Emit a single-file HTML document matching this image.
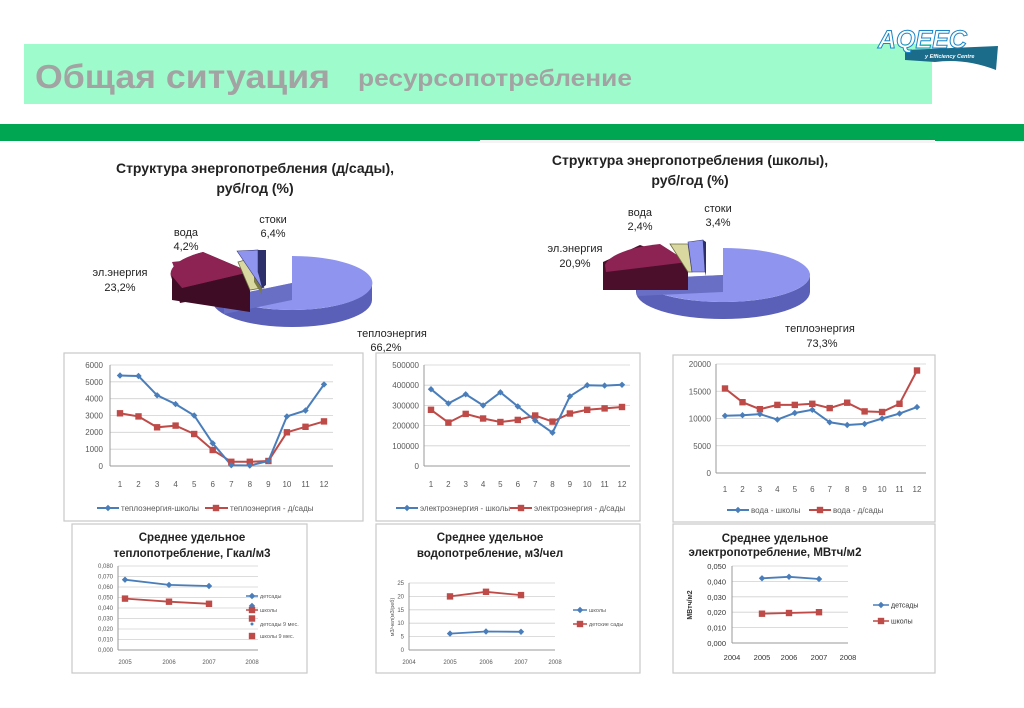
<!DOCTYPE html>
<html><head><meta charset="utf-8"><style>
body{margin:0;background:#fff}
svg{display:block;font-family:"Liberation Sans",sans-serif}
.t{font-size:8px;fill:#595959}
.g{stroke:#d0d0d0;stroke-width:0.8}
.bx{fill:#fff;stroke:#c8c8c8;stroke-width:1.2}
.pl{font-size:11px;fill:#222}
.ti{font-size:14px;font-weight:bold;fill:#222}
.ct{font-size:11.5px;font-weight:bold;fill:#222}
</style></head><body>
<svg width="1024" height="708" viewBox="0 0 1024 708">
<defs>
<g id="d"><path d="M0,-3.2L3.2,0L0,3.2L-3.2,0Z" fill="#4a7ebb"/></g>
<g id="s"><rect x="-3.2" y="-3.2" width="6.4" height="6.4" fill="#be4b48"/></g>
</defs>
<!-- header -->
<rect x="24" y="44" width="908" height="60" fill="#9efccc"/>
<text x="35" y="88" font-size="33" font-weight="bold" fill="#a3a3a3" textLength="295" lengthAdjust="spacingAndGlyphs">Общая ситуация</text>
<text x="358" y="86" font-size="23" font-weight="bold" fill="#a3a3a3" textLength="274" lengthAdjust="spacingAndGlyphs">ресурсопотребление</text>
<path d="M905,50 L998,46 L996,70 Q965,58 935,62 L905,60Z" fill="#1b6b8a"/>
<text x="878" y="48" font-size="25" font-weight="bold" font-style="italic" fill="#fff" stroke="#1a86c8" stroke-width="1">AQEEC</text>
<text x="925" y="58" font-size="5.5" font-weight="bold" font-style="italic" fill="#fff">y Efficiency Centre</text>
<rect x="0" y="124" width="1024" height="17" fill="#00a651"/>
<rect x="480" y="140" width="455" height="3" fill="#f4f4f4"/>

<!-- pie 1 -->
<text class="ti" x="255" y="173" text-anchor="middle">Структура энергопотребления (д/сады),</text>
<text class="ti" x="255" y="193" text-anchor="middle">руб/год (%)</text>
<path d="M212,283 A80,27 0 0 0 372,283 L372,300 A80,27 0 0 1 212,300Z" fill="#5a5fb8"/>
<path d="M292,256 A80,27 0 1 1 224,297 L292,283Z" fill="#8f95ef"/>
<path d="M224,297 L292,283 L292,300 L224,314Z" fill="#6a6fc6"/>
<path d="M172,276 A78,27 0 0 1 203,252 L250,272 L250,290 L180,303 Z" fill="#4b0f2b"/>
<path d="M182,288 A78,27 0 0 1 203,252 L250,272Z" fill="#8c2352"/>
<path d="M172,276 L182,288 L250,272 L250,312 L172,300Z" fill="#3e0c24"/>
<path d="M172,262 L210,258 L250,272 L182,288 Z" fill="#8c2352"/>
<path d="M238,262 L252,258 L262,288 L250,290Z" fill="#d8d8a0" stroke="#6b6b40" stroke-width="0.8"/>
<path d="M254,275 L262,288 L262,295 L254,282Z" fill="#7a7a44"/>
<path d="M237,251 L258,250 L258,272 L264,288 L262,288Z" fill="#8f95ef" stroke="#3a3a80" stroke-width="0.6"/>
<path d="M258,250 L266,250 L266,285 L262,288 L258,272Z" fill="#2c2f6a"/>
<text class="pl" x="186" y="236" text-anchor="middle">вода</text>
<text class="pl" x="186" y="250" text-anchor="middle">4,2%</text>
<text class="pl" x="273" y="223" text-anchor="middle">стоки</text>
<text class="pl" x="273" y="237" text-anchor="middle">6,4%</text>
<text class="pl" x="120" y="276" text-anchor="middle">эл.энергия</text>
<text class="pl" x="120" y="291" text-anchor="middle">23,2%</text>
<text class="pl" x="392" y="337" text-anchor="middle">теплоэнергия</text>
<text class="pl" x="386" y="351" text-anchor="middle">66,2%</text>

<!-- pie 2 -->
<text class="ti" x="690" y="165" text-anchor="middle">Структура энергопотребления (школы),</text>
<text class="ti" x="690" y="185" text-anchor="middle">руб/год (%)</text>
<path d="M636,275 A87,27 0 0 0 810,275 L810,292 A87,27 0 0 1 636,292Z" fill="#5a5fb8"/>
<path d="M723,248 A87,27 0 1 1 637,279 L723,275Z" fill="#8f95ef"/>
<path d="M637,279 L723,275 L723,292 L637,296Z" fill="#6a6fc6"/>
<path d="M603,262 L640,245 L688,262 L688,290 L603,290Z" fill="#4b0f2b"/>
<path d="M605,265 A80,25 0 0 1 660,244 L688,262 L606,272Z" fill="#8c2352"/>
<path d="M670,244 L688,244 L692,272 L688,272Z" fill="#d8d8a0" stroke="#6b6b40" stroke-width="0.8"/>
<path d="M688,242 L703,240 L705,272 L692,272Z" fill="#8f95ef" stroke="#3a3a80" stroke-width="0.6"/>
<path d="M703,240 L706,242 L706,276 L705,272Z" fill="#2c2f6a"/>
<text class="pl" x="640" y="216" text-anchor="middle">вода</text>
<text class="pl" x="640" y="230" text-anchor="middle">2,4%</text>
<text class="pl" x="718" y="212" text-anchor="middle">стоки</text>
<text class="pl" x="718" y="226" text-anchor="middle">3,4%</text>
<text class="pl" x="575" y="252" text-anchor="middle">эл.энергия</text>
<text class="pl" x="575" y="267" text-anchor="middle">20,9%</text>
<text class="pl" x="820" y="332" text-anchor="middle">теплоэнергия</text>
<text class="pl" x="822" y="347" text-anchor="middle">73,3%</text>

<!-- chart A -->
<rect class="bx" x="64" y="353" width="299" height="168"/>
<g class="g"><line x1="110" x2="333" y1="449.2" y2="449.2"/><line x1="110" x2="333" y1="432.3" y2="432.3"/><line x1="110" x2="333" y1="415.5" y2="415.5"/><line x1="110" x2="333" y1="398.7" y2="398.7"/><line x1="110" x2="333" y1="381.8" y2="381.8"/><line x1="110" x2="333" y1="365" y2="365"/></g>
<line x1="110" x2="333" y1="466" y2="466" stroke="#999"/><line x1="110" x2="110" y1="365" y2="466" stroke="#999"/>
<g class="t" text-anchor="end"><text x="103" y="469">0</text><text x="103" y="452">1000</text><text x="103" y="435">2000</text><text x="103" y="418.5">3000</text><text x="103" y="401.7">4000</text><text x="103" y="384.8">5000</text><text x="103" y="368">6000</text></g>
<g class="t" text-anchor="middle"><text x="120" y="487">1</text><text x="138.5" y="487">2</text><text x="157.1" y="487">3</text><text x="175.6" y="487">4</text><text x="194.2" y="487">5</text><text x="212.7" y="487">6</text><text x="231.3" y="487">7</text><text x="249.8" y="487">8</text><text x="268.4" y="487">9</text><text x="286.9" y="487">10</text><text x="305.5" y="487">11</text><text x="324" y="487">12</text></g>
<polyline fill="none" stroke="#be4b48" stroke-width="2" points="120,413.3 138.5,416.4 157.1,427.3 175.6,425.6 194.2,434 212.7,450 231.3,461.8 249.8,461.8 268.4,461 286.9,432.3 305.5,426.8 324,421.4"/>
<polyline fill="none" stroke="#4a7ebb" stroke-width="2" points="120,375.5 138.5,376 157.1,395.3 175.6,404.1 194.2,415.5 212.7,443.3 231.3,465.2 249.8,465.5 268.4,461 286.9,416.4 305.5,410.5 324,384.4"/>
<g><use href="#s" x="120" y="413.3"/><use href="#s" x="138.5" y="416.4"/><use href="#s" x="157.1" y="427.3"/><use href="#s" x="175.6" y="425.6"/><use href="#s" x="194.2" y="434"/><use href="#s" x="212.7" y="450"/><use href="#s" x="231.3" y="461.8"/><use href="#s" x="249.8" y="461.8"/><use href="#s" x="268.4" y="461"/><use href="#s" x="286.9" y="432.3"/><use href="#s" x="305.5" y="426.8"/><use href="#s" x="324" y="421.4"/></g>
<g><use href="#d" x="120" y="375.5"/><use href="#d" x="138.5" y="376"/><use href="#d" x="157.1" y="395.3"/><use href="#d" x="175.6" y="404.1"/><use href="#d" x="194.2" y="415.5"/><use href="#d" x="212.7" y="443.3"/><use href="#d" x="231.3" y="465.2"/><use href="#d" x="249.8" y="465.5"/><use href="#d" x="268.4" y="461"/><use href="#d" x="286.9" y="416.4"/><use href="#d" x="305.5" y="410.5"/><use href="#d" x="324" y="384.4"/></g>
<line x1="97" x2="119" y1="508" y2="508" stroke="#4a7ebb" stroke-width="2"/><use href="#d" x="108" y="508"/>
<text class="t" x="121" y="511">теплоэнергия-школы</text>
<line x1="205" x2="228" y1="508" y2="508" stroke="#be4b48" stroke-width="2"/><use href="#s" x="216" y="508"/>
<text class="t" x="230" y="511">теплоэнергия - д/сады</text>

<!-- chart B -->
<rect class="bx" x="376" y="353" width="264" height="168"/>
<g class="g"><line x1="424" x2="630" y1="445.8" y2="445.8"/><line x1="424" x2="630" y1="425.6" y2="425.6"/><line x1="424" x2="630" y1="405.4" y2="405.4"/><line x1="424" x2="630" y1="385.2" y2="385.2"/><line x1="424" x2="630" y1="365" y2="365"/></g>
<line x1="424" x2="630" y1="466" y2="466" stroke="#999"/><line x1="424" x2="424" y1="365" y2="466" stroke="#999"/>
<g class="t" text-anchor="end"><text x="419" y="469">0</text><text x="419" y="448.8">100000</text><text x="419" y="428.6">200000</text><text x="419" y="408.4">300000</text><text x="419" y="388.2">400000</text><text x="419" y="368">500000</text></g>
<g class="t" text-anchor="middle"><text x="431" y="487">1</text><text x="448.4" y="487">2</text><text x="465.7" y="487">3</text><text x="483.1" y="487">4</text><text x="500.4" y="487">5</text><text x="517.8" y="487">6</text><text x="535.2" y="487">7</text><text x="552.5" y="487">8</text><text x="569.9" y="487">9</text><text x="587.2" y="487">10</text><text x="604.6" y="487">11</text><text x="622" y="487">12</text></g>
<polyline fill="none" stroke="#be4b48" stroke-width="2" points="431,409.8 448.4,422.6 465.7,413.9 483.1,418.5 500.4,422 517.8,419.9 535.2,415.5 552.5,421.6 569.9,413.5 587.2,409.8 604.6,408.4 622,407"/>
<polyline fill="none" stroke="#4a7ebb" stroke-width="2" points="431,389.2 448.4,403.4 465.7,394.3 483.1,405.4 500.4,392.3 517.8,406.4 535.2,420.5 552.5,432.7 569.9,396.3 587.2,385.2 604.6,385.6 622,384.8"/>
<g><use href="#s" x="431" y="409.8"/><use href="#s" x="448.4" y="422.6"/><use href="#s" x="465.7" y="413.9"/><use href="#s" x="483.1" y="418.5"/><use href="#s" x="500.4" y="422"/><use href="#s" x="517.8" y="419.9"/><use href="#s" x="535.2" y="415.5"/><use href="#s" x="552.5" y="421.6"/><use href="#s" x="569.9" y="413.5"/><use href="#s" x="587.2" y="409.8"/><use href="#s" x="604.6" y="408.4"/><use href="#s" x="622" y="407"/></g>
<g><use href="#d" x="431" y="389.2"/><use href="#d" x="448.4" y="403.4"/><use href="#d" x="465.7" y="394.3"/><use href="#d" x="483.1" y="405.4"/><use href="#d" x="500.4" y="392.3"/><use href="#d" x="517.8" y="406.4"/><use href="#d" x="535.2" y="420.5"/><use href="#d" x="552.5" y="432.7"/><use href="#d" x="569.9" y="396.3"/><use href="#d" x="587.2" y="385.2"/><use href="#d" x="604.6" y="385.6"/><use href="#d" x="622" y="384.8"/></g>
<line x1="396" x2="418" y1="508" y2="508" stroke="#4a7ebb" stroke-width="2"/><use href="#d" x="407" y="508"/>
<text class="t" x="420" y="511">электроэнергия - школы</text>
<line x1="510" x2="532" y1="508" y2="508" stroke="#be4b48" stroke-width="2"/><use href="#s" x="521" y="508"/>
<text class="t" x="534" y="511">электроэнергия - д/сады</text>

<!-- chart C -->
<rect class="bx" x="673" y="355" width="262" height="167"/>
<g class="g"><line x1="716" x2="926" y1="445.75" y2="445.75"/><line x1="716" x2="926" y1="418.5" y2="418.5"/><line x1="716" x2="926" y1="391.25" y2="391.25"/><line x1="716" x2="926" y1="364" y2="364"/></g>
<line x1="716" x2="926" y1="473" y2="473" stroke="#999"/><line x1="716" x2="716" y1="364" y2="473" stroke="#999"/>
<g class="t" text-anchor="end"><text x="711" y="476">0</text><text x="711" y="448.75">5000</text><text x="711" y="421.5">10000</text><text x="711" y="394.25">15000</text><text x="711" y="367">20000</text></g>
<g class="t" text-anchor="middle"><text x="725" y="492">1</text><text x="742.5" y="492">2</text><text x="759.9" y="492">3</text><text x="777.4" y="492">4</text><text x="794.8" y="492">5</text><text x="812.3" y="492">6</text><text x="829.7" y="492">7</text><text x="847.2" y="492">8</text><text x="864.6" y="492">9</text><text x="882.1" y="492">10</text><text x="899.5" y="492">11</text><text x="917" y="492">12</text></g>
<polyline fill="none" stroke="#be4b48" stroke-width="2" points="725,388.5 742.5,402.2 759.9,409.2 777.4,404.9 794.8,404.9 812.3,403.8 829.7,408.1 847.2,402.7 864.6,411.4 882.1,412 899.5,403.8 917,370.5"/>
<polyline fill="none" stroke="#4a7ebb" stroke-width="2" points="725,415.8 742.5,415.2 759.9,414.1 777.4,419.6 794.8,413 812.3,409.8 829.7,422.3 847.2,425 864.6,423.9 882.1,418.5 899.5,413.6 917,407.1"/>
<g><use href="#s" x="725" y="388.5"/><use href="#s" x="742.5" y="402.2"/><use href="#s" x="759.9" y="409.2"/><use href="#s" x="777.4" y="404.9"/><use href="#s" x="794.8" y="404.9"/><use href="#s" x="812.3" y="403.8"/><use href="#s" x="829.7" y="408.1"/><use href="#s" x="847.2" y="402.7"/><use href="#s" x="864.6" y="411.4"/><use href="#s" x="882.1" y="412"/><use href="#s" x="899.5" y="403.8"/><use href="#s" x="917" y="370.5"/></g>
<g><use href="#d" x="725" y="415.8"/><use href="#d" x="742.5" y="415.2"/><use href="#d" x="759.9" y="414.1"/><use href="#d" x="777.4" y="419.6"/><use href="#d" x="794.8" y="413"/><use href="#d" x="812.3" y="409.8"/><use href="#d" x="829.7" y="422.3"/><use href="#d" x="847.2" y="425"/><use href="#d" x="864.6" y="423.9"/><use href="#d" x="882.1" y="418.5"/><use href="#d" x="899.5" y="413.6"/><use href="#d" x="917" y="407.1"/></g>
<line x1="727" x2="749" y1="510" y2="510" stroke="#4a7ebb" stroke-width="2"/><use href="#d" x="738" y="510"/>
<text class="t" x="751" y="513">вода - школы</text>
<line x1="809" x2="831" y1="510" y2="510" stroke="#be4b48" stroke-width="2"/><use href="#s" x="820" y="510"/>
<text class="t" x="833" y="513">вода - д/сады</text>

<!-- chart D -->
<rect class="bx" x="72" y="524" width="235" height="149"/>
<text class="ct" x="192" y="541" text-anchor="middle">Среднее удельное</text>
<text class="ct" x="192" y="557" text-anchor="middle">теплопотребление, Гкал/м3</text>
<g class="g"><line x1="118" x2="258" y1="639.5" y2="639.5"/><line x1="118" x2="258" y1="629" y2="629"/><line x1="118" x2="258" y1="618.5" y2="618.5"/><line x1="118" x2="258" y1="608" y2="608"/><line x1="118" x2="258" y1="597.5" y2="597.5"/><line x1="118" x2="258" y1="587" y2="587"/><line x1="118" x2="258" y1="576.5" y2="576.5"/><line x1="118" x2="258" y1="566" y2="566"/></g>
<line x1="118" x2="258" y1="650" y2="650" stroke="#999"/><line x1="118" x2="118" y1="566" y2="650" stroke="#999"/>
<g class="t" text-anchor="end" style="font-size:6px"><text x="113" y="652">0,000</text><text x="113" y="641.5">0,010</text><text x="113" y="631">0,020</text><text x="113" y="620.5">0,030</text><text x="113" y="610">0,040</text><text x="113" y="599.5">0,050</text><text x="113" y="589">0,060</text><text x="113" y="578.5">0,070</text><text x="113" y="568">0,080</text></g>
<g class="t" text-anchor="middle" style="font-size:6px"><text x="125" y="664">2005</text><text x="169" y="664">2006</text><text x="209" y="664">2007</text><text x="252" y="664">2008</text></g>
<polyline fill="none" stroke="#4a7ebb" stroke-width="1.8" points="125,579.7 169,584.9 209,586"/>
<polyline fill="none" stroke="#be4b48" stroke-width="1.8" points="125,598.6 169,601.7 209,603.8"/>
<use href="#d" x="125" y="579.7"/><use href="#d" x="169" y="584.9"/><use href="#d" x="209" y="586"/><use href="#d" x="252" y="605.9"/>
<use href="#s" x="125" y="598.6"/><use href="#s" x="169" y="601.7"/><use href="#s" x="209" y="603.8"/><use href="#s" x="252" y="618.5"/>
<g class="t" style="font-size:5.5px">
<line x1="246" x2="258" y1="596" y2="596" stroke="#4a7ebb" stroke-width="1.5"/><use href="#d" x="252" y="596"/><text x="260" y="598">детсады</text>
<line x1="246" x2="258" y1="610" y2="610" stroke="#be4b48" stroke-width="1.5"/><use href="#s" x="252" y="610"/><text x="260" y="612">школы</text>
<circle cx="252" cy="624" r="1.5" fill="#4a7ebb"/><text x="260" y="626">детсады 9 мес.</text>
<use href="#s" x="252" y="636"/><text x="260" y="638">школы 9 мес.</text></g>

<!-- chart E -->
<rect class="bx" x="376" y="524" width="264" height="149"/>
<text class="ct" x="490" y="541" text-anchor="middle">Среднее удельное</text>
<text class="ct" x="490" y="557" text-anchor="middle">водопотребление, м3/чел</text>
<g class="g"><line x1="409" x2="555" y1="636.6" y2="636.6"/><line x1="409" x2="555" y1="623.2" y2="623.2"/><line x1="409" x2="555" y1="609.8" y2="609.8"/><line x1="409" x2="555" y1="596.4" y2="596.4"/><line x1="409" x2="555" y1="583" y2="583"/></g>
<line x1="409" x2="555" y1="650" y2="650" stroke="#999"/><line x1="409" x2="409" y1="583" y2="650" stroke="#999"/>
<g class="t" text-anchor="end" style="font-size:6px"><text x="404" y="652">0</text><text x="404" y="638.6">5</text><text x="404" y="625.2">10</text><text x="404" y="611.8">15</text><text x="404" y="598.4">20</text><text x="404" y="585">25</text></g>
<text class="t" style="font-size:5.5px" transform="translate(394,617) rotate(-90)" text-anchor="middle">м3/чел(м3/реб)</text>
<g class="t" text-anchor="middle" style="font-size:6px"><text x="409" y="664">2004</text><text x="450" y="664">2005</text><text x="486" y="664">2006</text><text x="521" y="664">2007</text><text x="555" y="664">2008</text></g>
<polyline fill="none" stroke="#be4b48" stroke-width="1.8" points="450,596.4 486,591.8 521,595.1"/>
<polyline fill="none" stroke="#4a7ebb" stroke-width="1.8" points="450,633.6 486,631.5 521,631.8"/>
<use href="#s" x="450" y="596.4"/><use href="#s" x="486" y="591.8"/><use href="#s" x="521" y="595.1"/>
<use href="#d" x="450" y="633.6"/><use href="#d" x="486" y="631.5"/><use href="#d" x="521" y="631.8"/>
<g class="t" style="font-size:5.5px">
<line x1="573" x2="587" y1="610" y2="610" stroke="#4a7ebb" stroke-width="1.5"/><use href="#d" x="580" y="610"/><text x="589" y="612">школы</text>
<line x1="573" x2="587" y1="624" y2="624" stroke="#be4b48" stroke-width="1.5"/><use href="#s" x="580" y="624"/><text x="589" y="626">детские сады</text></g>

<!-- chart F -->
<rect class="bx" x="673" y="524" width="262" height="149"/>
<text class="ct" x="775" y="542" text-anchor="middle">Среднее удельное</text>
<text class="ct" x="775" y="556" text-anchor="middle">электропотребление, МВтч/м2</text>
<g class="g"><line x1="732" x2="848" y1="627.6" y2="627.6"/><line x1="732" x2="848" y1="612.2" y2="612.2"/><line x1="732" x2="848" y1="596.8" y2="596.8"/><line x1="732" x2="848" y1="581.4" y2="581.4"/><line x1="732" x2="848" y1="566" y2="566"/></g>
<line x1="732" x2="848" y1="643" y2="643" stroke="#999"/><line x1="732" x2="732" y1="566" y2="643" stroke="#999"/>
<g class="t" text-anchor="end" style="font-size:7.5px;fill:#333"><text x="726" y="646">0,000</text><text x="726" y="630.6">0,010</text><text x="726" y="615.2">0,020</text><text x="726" y="599.8">0,030</text><text x="726" y="584.4">0,040</text><text x="726" y="569">0,050</text></g>
<text class="t" style="font-size:7px;font-weight:bold;fill:#333" transform="translate(692,605) rotate(-90)" text-anchor="middle">МВтч/м2</text>
<g class="t" text-anchor="middle" style="font-size:7.5px;fill:#333"><text x="732" y="660">2004</text><text x="762" y="660">2005</text><text x="789" y="660">2006</text><text x="819" y="660">2007</text><text x="848" y="660">2008</text></g>
<polyline fill="none" stroke="#4a7ebb" stroke-width="1.8" points="762,578.3 789,576.8 819,579"/>
<polyline fill="none" stroke="#be4b48" stroke-width="1.8" points="762,613.7 789,613 819,612.2"/>
<use href="#d" x="762" y="578.3"/><use href="#d" x="789" y="576.8"/><use href="#d" x="819" y="579"/>
<use href="#s" x="762" y="613.7"/><use href="#s" x="789" y="613"/><use href="#s" x="819" y="612.2"/>
<g class="t" style="font-size:7px;fill:#333">
<line x1="873" x2="889" y1="605" y2="605" stroke="#4a7ebb" stroke-width="1.5"/><use href="#d" x="881" y="605"/><text x="891" y="607.5">детсады</text>
<line x1="873" x2="889" y1="621" y2="621" stroke="#be4b48" stroke-width="1.5"/><use href="#s" x="881" y="621"/><text x="891" y="623.5">школы</text></g>
</svg>
</body></html>
